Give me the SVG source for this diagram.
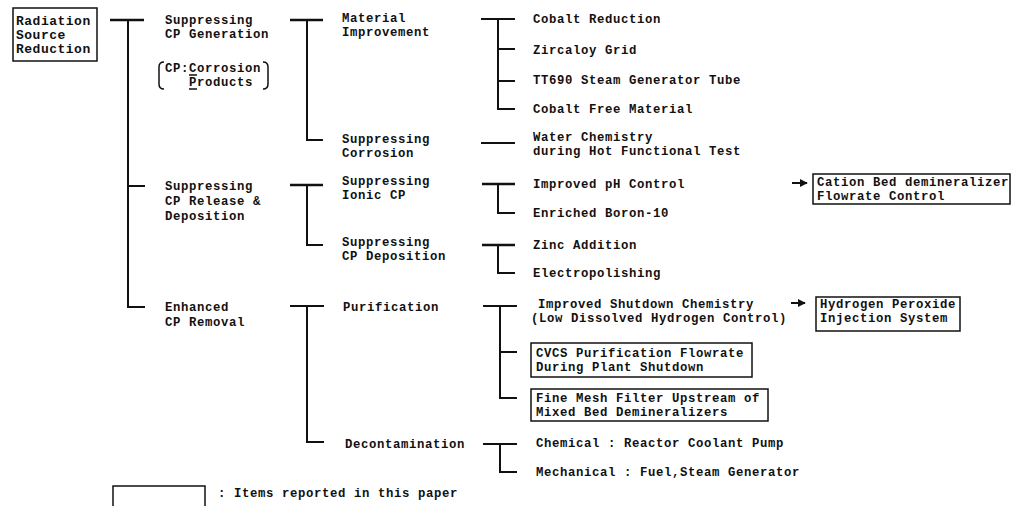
<svg xmlns="http://www.w3.org/2000/svg" width="1012" height="506" viewBox="0 0 1012 506">
<style>
text{font-family:"Liberation Mono","DejaVu Sans Mono",monospace;font-size:12.3px;letter-spacing:0.62px;font-weight:bold;fill:#111}
.root{font-size:13px;letter-spacing:0.5px}
.c{stroke:#111;stroke-width:2;fill:none}
.t{stroke:#111;stroke-width:2.6;fill:none}
.box{stroke:#111;stroke-width:1.5;fill:none}
</style>
<defs>
<marker id="ah" viewBox="0 0 10 10" refX="9" refY="5" markerWidth="4" markerHeight="4" orient="auto" markerUnits="strokeWidth">
<path d="M0,0 L10,5 L0,10 z" fill="#111"/>
</marker>
</defs>
<rect width="1012" height="506" fill="#fff"/>

<g id="connectors">
<!-- level 0 -->
<path class="t" d="M110,20 H144"/>
<path class="c" d="M128,20 V307 H145 M128,186 H145"/>
<!-- level 1 -->
<path class="t" d="M290,20 H323"/>
<path class="c" d="M307,20 V140 H323"/>
<path class="t" d="M290,185 H323"/>
<path class="c" d="M307,185 V245 H323"/>
<path class="c" d="M290,306 H324 M307,306 V442 H324"/>
<!-- level 2 -->
<path class="c" d="M481,19 H515 M498,19 V109 H515 M498,49 H515 M498,81 H515"/>
<path class="c" d="M481,143 H515"/>
<path class="t" d="M482,184 H515"/>
<path class="c" d="M498,184 V213 H515"/>
<path class="t" d="M482,245 H515"/>
<path class="c" d="M498,245 V273 H515"/>
<path class="c" d="M483,306 H517 M500,306 V398 H517 M500,352 H517"/>
<path class="c" d="M483,444 H517 M500,444 V472 H517"/>
<!-- arrows -->
<line class="c" x1="792" y1="183" x2="807" y2="183" stroke-width="2.5" marker-end="url(#ah)"/>
<line class="c" x1="791" y1="303" x2="805" y2="303" stroke-width="2.5" marker-end="url(#ah)"/>
</g>

<g id="root">
<rect class="box" x="13" y="8" width="84" height="53"/>
<text class="root" x="16" y="25">Radiation</text>
<text class="root" x="16" y="39">Source</text>
<text class="root" x="16" y="53">Reduction</text>
</g>

<g id="n-cp-generation">
<text x="165" y="24">Suppressing</text>
<text x="165" y="38">CP Generation</text>
</g>
<g id="n-cp-note">
<path class="box" d="M164,62 Q159,62 159,67 V84 Q159,89 164,89"/>
<path class="box" d="M263,62 Q268,62 268,67 V84 Q268,89 263,89"/>
<text x="165" y="72">CP:Corrosion</text>
<text x="189" y="86">Products</text>
<path class="box" d="M189,75 H197 M189,89 H197"/>
</g>
<g id="n-cp-release">
<text x="165" y="190">Suppressing</text>
<text x="165" y="205">CP Release &amp;</text>
<text x="165" y="220">Deposition</text>
</g>
<g id="n-cp-removal">
<text x="165" y="311">Enhanced</text>
<text x="165" y="326">CP Removal</text>
</g>

<g id="n-material">
<text x="342" y="22">Material</text>
<text x="342" y="36">Improvement</text>
</g>
<g id="n-corrosion">
<text x="342" y="143">Suppressing</text>
<text x="342" y="157">Corrosion</text>
</g>
<g id="n-ionic">
<text x="342" y="185">Suppressing</text>
<text x="342" y="199">Ionic CP</text>
</g>
<g id="n-deposition">
<text x="342" y="246">Suppressing</text>
<text x="342" y="260">CP Deposition</text>
</g>
<g id="n-purification">
<text x="343" y="311">Purification</text>
</g>
<g id="n-decontamination">
<text x="345" y="448">Decontamination</text>
</g>

<g id="n-cobalt-reduction"><text x="533" y="23">Cobalt Reduction</text></g>
<g id="n-zircaloy"><text x="533" y="54">Zircaloy Grid</text></g>
<g id="n-tt690"><text x="533" y="84">TT690 Steam Generator Tube</text></g>
<g id="n-cobalt-free"><text x="533" y="113">Cobalt Free Material</text></g>
<g id="n-water-chem">
<text x="533" y="141">Water Chemistry</text>
<text x="533" y="155">during Hot Functional Test</text>
</g>
<g id="n-ph"><text x="533" y="188">Improved pH Control</text></g>
<g id="n-boron"><text x="533" y="217">Enriched Boron-10</text></g>
<g id="n-zinc"><text x="533" y="249">Zinc Addition</text></g>
<g id="n-electro"><text x="533" y="277">Electropolishing</text></g>
<g id="n-shutdown">
<text x="538" y="308">Improved Shutdown Chemistry</text>
<text x="531" y="322">(Low Dissolved Hydrogen Control)</text>
</g>
<g id="n-cvcs">
<rect class="box" x="531" y="343" width="221" height="34"/>
<text x="536" y="357">CVCS Purification Flowrate</text>
<text x="536" y="371">During Plant Shutdown</text>
</g>
<g id="n-finemesh">
<rect class="box" x="531" y="389" width="237" height="32"/>
<text x="536" y="402">Fine Mesh Filter Upstream of</text>
<text x="536" y="416">Mixed Bed Demineralizers</text>
</g>
<g id="n-chemical"><text x="536" y="447">Chemical : Reactor Coolant Pump</text></g>
<g id="n-mechanical"><text x="536" y="476">Mechanical : Fuel,Steam Generator</text></g>

<g id="n-cation">
<rect class="box" x="813" y="174" width="197" height="30"/>
<text x="817" y="186">Cation Bed demineralizer</text>
<text x="817" y="200">Flowrate Control</text>
</g>
<g id="n-h2o2">
<rect class="box" x="816" y="297" width="144" height="34"/>
<text x="820" y="308">Hydrogen Peroxide</text>
<text x="820" y="322">Injection System</text>
</g>

<g id="legend">
<rect class="box" x="113" y="486" width="92" height="24"/>
<text x="218" y="497">: Items reported in this paper</text>
</g>
</svg>
